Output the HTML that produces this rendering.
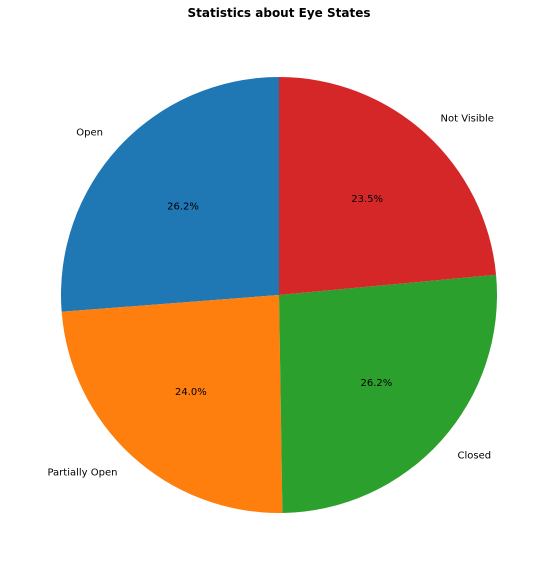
<!DOCTYPE html>
<html><head><meta charset="utf-8"><style>
body{margin:0;background:#fff;}
svg{display:block;font-family:"DejaVu Sans","Liberation Sans",sans-serif;}
</style></head><body>
<svg id="chart" width="557" height="574">
<text x="279" y="17" text-anchor="middle" font-size="12" font-weight="bold">Statistics about Eye States</text>
<g id="slices"></g>
</svg>
<script>
const categories=["Open","Partially Open","Closed","Not Visible"];
const values=[26.2,24.0,26.2,23.5];
const colors=["#1f77b4","#ff7f0e","#2ca02c","#d62728"];
const cx=279,cy=295,r=218;
const g=document.getElementById('slices');
const ns="http://www.w3.org/2000/svg";
const total=values.reduce((a,b)=>a+b,0);
let ang=90;
function pt(a,rr){const t=a*Math.PI/180;return [cx+rr*Math.cos(t),cy-rr*Math.sin(t)];}
values.forEach((v,i)=>{
  const sweep=v/total*360;const a0=ang,a1=ang+sweep;
  const p0=pt(a0,r),p1=pt(a1,r);
  const p=document.createElementNS(ns,'path');
  p.setAttribute('d',`M${cx},${cy}L${p0[0]},${p0[1]}A${r},${r} 0 ${sweep>180?1:0} 0 ${p1[0]},${p1[1]}Z`);
  p.setAttribute('fill',colors[i]);
  
  
  g.appendChild(p);
  const mid=(a0+a1)/2;
  const lp=pt(mid,r*1.1);const c=Math.cos(mid*Math.PI/180);
  const t=document.createElementNS(ns,'text');
  t.setAttribute('x',lp[0]);t.setAttribute('y',lp[1]+3.5);
  t.setAttribute('font-size','10');
  t.setAttribute('text-anchor',c<0?'end':'start');
  t.textContent=categories[i];
  
  
  g.appendChild(t);
  const pp=pt(mid,r*0.6);
  const t2=document.createElementNS(ns,'text');
  t2.setAttribute('x',pp[0]);t2.setAttribute('y',pp[1]+3.5);
  t2.setAttribute('font-size','10');t2.setAttribute('text-anchor','middle');
  t2.textContent=v.toFixed(1)+'%';
  
  
  g.appendChild(t2);
  ang=a1;
});
</script>
</body></html>
